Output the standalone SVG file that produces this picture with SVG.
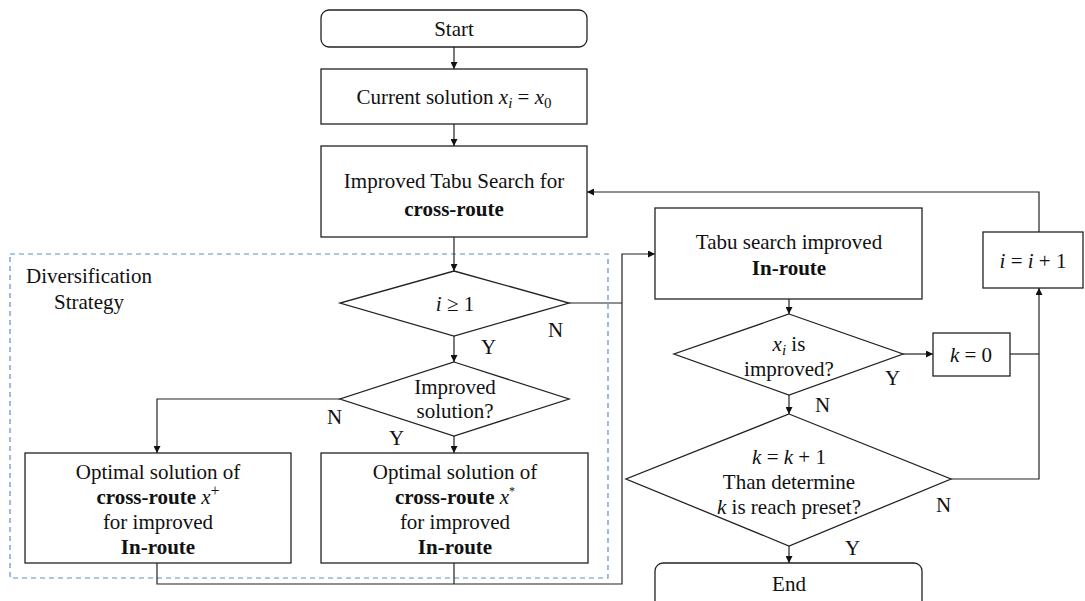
<svg xmlns="http://www.w3.org/2000/svg" width="1085" height="601" viewBox="0 0 1085 601">
  <defs>
    <marker id="arr" viewBox="0 0 10 10" refX="10" refY="5" markerWidth="7" markerHeight="7" markerUnits="userSpaceOnUse" orient="auto">
      <path d="M0,0 L10,5 L0,10 z" fill="#111"/>
    </marker>
    <style>
      .box { fill: #fff; stroke: #222; stroke-width: 1.3; }
      .line { fill: none; stroke: #222; stroke-width: 1.2; }
      .dash { fill: none; stroke: #5f8fbf; stroke-width: 1.2; stroke-dasharray: 5 4; }
      text { font-family: "Liberation Serif", "Times New Roman", serif; font-size: 21px; fill: #111; }
      .c { text-anchor: middle; }
      .b { font-weight: bold; }
      .m { font-style: italic; }
      .sub { font-size: 15px; font-style: italic; }
    </style>
  </defs>

  <rect width="1085" height="601" fill="#fff"/>

  <!-- diversification strategy region -->
  <g id="diversification">
    <rect class="dash" x="10" y="254" width="598" height="324"/>
    <text x="26" y="283">Diversification</text>
    <text x="54" y="309">Strategy</text>
  </g>

  <!-- connectors -->
  <g id="connectors">
    <line class="line" x1="454" y1="47" x2="454" y2="69" marker-end="url(#arr)"/>
    <line class="line" x1="454" y1="124" x2="454" y2="146" marker-end="url(#arr)"/>
    <line class="line" x1="454" y1="237" x2="454" y2="271" marker-end="url(#arr)"/>
    <line class="line" x1="454" y1="336" x2="454" y2="362" marker-end="url(#arr)"/>
    <polyline class="line" points="340,399 157,399 157,453" marker-end="url(#arr)"/>
    <line class="line" x1="454" y1="436" x2="454" y2="453" marker-end="url(#arr)"/>
    <polyline class="line" points="157,563 157,584 622,584 622,254 655,254" marker-end="url(#arr)"/>
    <line class="line" x1="454" y1="563" x2="454" y2="584"/>
    <line class="line" x1="569" y1="303" x2="622" y2="303"/>
    <line class="line" x1="789" y1="299" x2="789" y2="314" marker-end="url(#arr)"/>
    <line class="line" x1="903" y1="354" x2="933" y2="354" marker-end="url(#arr)"/>
    <line class="line" x1="789" y1="395" x2="789" y2="414" marker-end="url(#arr)"/>
    <line class="line" x1="789" y1="546" x2="789" y2="563" marker-end="url(#arr)"/>
    <polyline class="line" points="951,479 1039,479 1039,288" marker-end="url(#arr)"/>
    <line class="line" x1="1010" y1="354" x2="1039" y2="354"/>
    <polyline class="line" points="1039,232 1039,192 587,192" marker-end="url(#arr)"/>
    <text x="548" y="337">N</text>
    <text x="481" y="354">Y</text>
    <text x="327" y="424">N</text>
    <text x="389" y="445">Y</text>
    <text x="885" y="385">Y</text>
    <text x="815" y="412">N</text>
    <text x="936" y="512">N</text>
    <text x="845" y="555">Y</text>
  </g>

  <g id="start">
    <rect class="box" x="321" y="10" width="266" height="37" rx="8"/>
    <text class="c" x="454" y="36">Start</text>
  </g>

  <g id="current-solution">
    <rect class="box" x="321" y="69" width="266" height="55"/>
    <text class="c" x="454" y="104">Current solution <tspan class="m">x</tspan><tspan class="sub" dy="4">i</tspan><tspan dy="-4"> = </tspan><tspan class="m">x</tspan><tspan font-size="15" dy="4">0</tspan></text>
  </g>

  <g id="cross-route-search">
    <rect class="box" x="321" y="146" width="266" height="91"/>
    <text class="c" x="454" y="188">Improved Tabu Search for</text>
    <text class="c b" x="454" y="216">cross-route</text>
  </g>

  <g id="check-i">
    <polygon class="box" points="454,271 569,303 454,336 340,303"/>
    <text class="c" x="455" y="311"><tspan class="m">i</tspan> ≥ 1</text>
  </g>

  <g id="improved-solution">
    <polygon class="box" points="454,362 569,399 454,436 340,399"/>
    <text class="c" x="455" y="394">Improved</text>
    <text class="c" x="455" y="418">solution?</text>
  </g>

  <g id="optimal-plus">
    <rect class="box" x="25" y="453" width="266" height="110"/>
    <text class="c" x="158" y="479">Optimal solution of</text>
    <text class="c" x="158" y="504"><tspan class="b">cross-route </tspan><tspan class="m">x</tspan><tspan font-size="16" dy="-8">+</tspan></text>
    <text class="c" x="158" y="529">for improved</text>
    <text class="c b" x="158" y="554">In-route</text>
  </g>

  <g id="optimal-star">
    <rect class="box" x="321" y="453" width="267" height="110"/>
    <text class="c" x="455" y="479">Optimal solution of</text>
    <text class="c" x="455" y="504"><tspan class="b">cross-route </tspan><tspan class="m">x</tspan><tspan font-size="12" dy="-9">*</tspan></text>
    <text class="c" x="455" y="529">for improved</text>
    <text class="c b" x="455" y="554">In-route</text>
  </g>

  <g id="in-route-search">
    <rect class="box" x="655" y="208" width="267" height="91"/>
    <text class="c" x="789" y="249">Tabu search improved</text>
    <text class="c b" x="789" y="275">In-route</text>
  </g>

  <g id="xi-improved">
    <polygon class="box" points="789,314 903,354 789,395 674,354"/>
    <text class="c" x="789" y="351"><tspan class="m">x</tspan><tspan class="sub" dy="4">i</tspan><tspan dy="-4"> is</tspan></text>
    <text class="c" x="789" y="376">improved?</text>
  </g>

  <g id="reset-k">
    <rect class="box" x="933" y="333" width="77" height="43"/>
    <text class="c" x="971" y="362"><tspan class="m">k</tspan> = 0</text>
  </g>

  <g id="increment-i">
    <rect class="box" x="983" y="232" width="100" height="56"/>
    <text class="c" x="1033" y="268"><tspan class="m">i</tspan> = <tspan class="m">i</tspan> + 1</text>
  </g>

  <g id="k-preset">
    <polygon class="box" points="789,414 951,479 789,546 626,479"/>
    <text class="c" x="789" y="464"><tspan class="m">k</tspan> = <tspan class="m">k</tspan> + 1</text>
    <text class="c" x="789" y="489">Than determine</text>
    <text class="c" x="789" y="514"><tspan class="m">k</tspan> is reach preset?</text>
  </g>

  <g id="end">
    <rect class="box" x="655" y="563" width="267" height="46" rx="8"/>
    <text class="c" x="789" y="591">End</text>
  </g>
</svg>
